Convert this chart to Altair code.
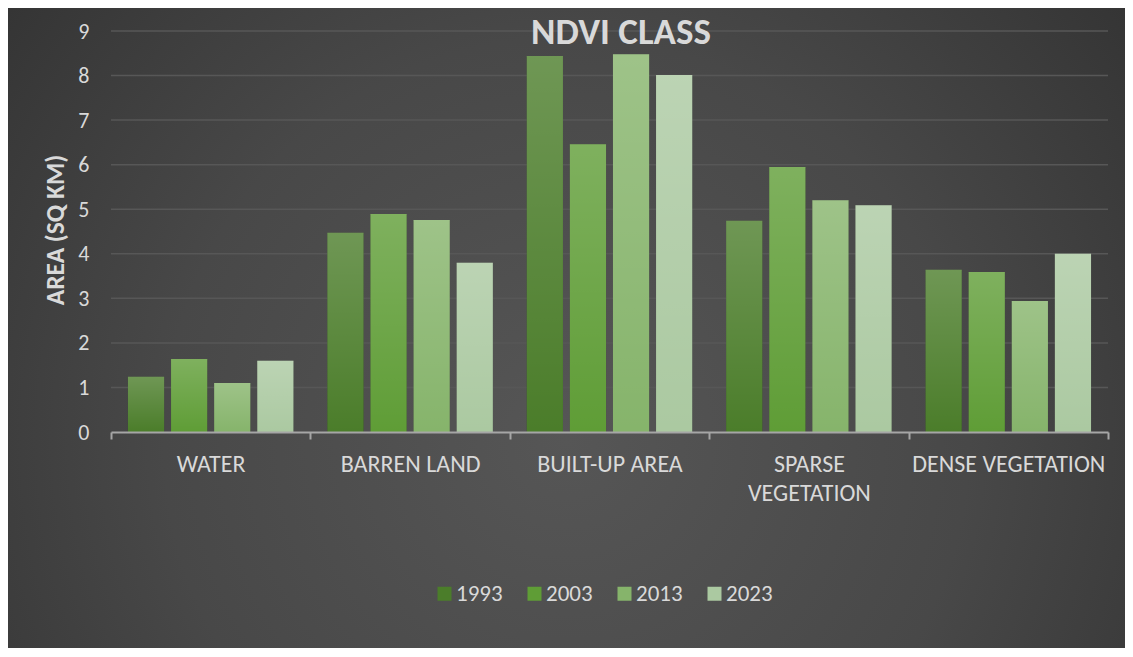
import altair as alt
import pandas as pd

# ---- data ----
classes = ["WATER", "BARREN LAND", "BUILT-UP AREA", "SPARSE VEGETATION", "DENSE VEGETATION"]
years = ["1993", "2003", "2013", "2023"]
area_1993 = [1.24, 4.47, 8.44, 4.74, 3.64]
area_2003 = [1.64, 4.89, 6.46, 5.95, 3.59]
area_2013 = [1.10, 4.76, 8.48, 5.20, 2.94]
area_2023 = [1.60, 3.80, 8.01, 5.09, 4.00]
y_ticks = [0, 1, 2, 3, 4, 5, 6, 7, 8, 9]
chart_title = ["NDVI CLASS"]

colors = ["#4b7d2a", "#5f9d36", "#86b46b", "#abc9a1"]
TXT = "#d9d9d9"
FONT = "Carlito, Lato, sans-serif"

series = {"1993": area_1993, "2003": area_2003, "2013": area_2013, "2023": area_2023}
rows = []
for yr, vals in series.items():
    for c, v in zip(classes, vals):
        rows.append({"cls": c, "year": yr, "area": v})
df = pd.DataFrame(rows)
grid_df = pd.DataFrame({"area": y_ticks[1:]})
bg_df = pd.DataFrame({"k": [0]})
title_df = pd.DataFrame({"t": chart_title})

W, H = 997, 401
PL, PT, PR, PB = 103, 23, 17, 216

x_axis = alt.Axis(
    title=None, labelAngle=0, labelFontSize=24, labelColor=TXT, labelFont=FONT,
    labelPadding=13, labelLineHeight=29, labelLimit=400,
    labelExpr="datum.label == 'SPARSE VEGETATION' ? ['SPARSE', 'VEGETATION'] : datum.label",
    domainColor="#a6a6a6", domainWidth=2, tickColor="#a6a6a6", tickWidth=2, tickSize=7,
    tickBand="extent", grid=False, zindex=1,
)
y_axis = alt.Axis(
    title="AREA (SQ KM)", values=y_ticks, domain=False, ticks=False, grid=False,
    labelFontSize=22, labelColor=TXT, labelFont=FONT, labelPadding=22,
    titleFontSize=25.5, titleFontWeight="bold", titleColor=TXT, titleFont=FONT,
    titleX=-56, titleY=H / 2 - 2, titleAlign="center", titleBaseline="middle", zindex=1,
)

x_enc = alt.X("cls:N", sort=classes,
              scale=alt.Scale(domain=classes, paddingInner=0, paddingOuter=0),
              axis=x_axis)
xo_enc = alt.XOffset("year:N", scale=alt.Scale(domain=years, paddingInner=0.16, paddingOuter=0.393))
y_enc = alt.Y("area:Q", scale=alt.Scale(domain=[0, 9], nice=False), axis=y_axis)

bg = alt.Chart(bg_df).mark_rect(
    color=alt.Gradient(
        gradient="radial", x1=0.5, y1=0.6, x2=0.5, y2=0.6, r1=0, r2=0.8,
        stops=[alt.GradientStop(color="#565656", offset=0),
               alt.GradientStop(color="#484848", offset=0.45),
               alt.GradientStop(color="#292929", offset=1)],
    )
).encode(x=alt.value(-PL), x2=alt.value(W + PR), y=alt.value(-PT), y2=alt.value(H + PB))

grid = alt.Chart(grid_df).mark_rule(color="#575757", strokeWidth=1.5).encode(y=y_enc)

base = alt.Chart(df).encode(x=x_enc, xOffset=xo_enc, y=y_enc)

shadow = base.mark_bar(color="#151515", opacity=0.35, xOffset=3, yOffset=1)

bars = base.mark_bar().encode(
    color=alt.Color(
        "year:N", scale=alt.Scale(domain=years, range=colors),
        legend=alt.Legend(
            title=None, orient="none", legendX=322, legendY=551, direction="horizontal",
            columns=4, symbolType="square", symbolSize=196, symbolStrokeWidth=0,
            labelFontSize=23, labelColor=TXT, labelFont=FONT, columnPadding=20,
            labelOffset=0, padding=0, zindex=1,
        ),
    )
)

shine = base.mark_bar(
    color=alt.Gradient(
        gradient="linear", x1=0, y1=0, x2=0, y2=1,
        stops=[alt.GradientStop(color="rgba(255,255,255,0.2)", offset=0),
               alt.GradientStop(color="rgba(255,255,255,0)", offset=1)],
    )
)

title = alt.Chart(title_df).mark_text(
    font=FONT, fontSize=37, fontWeight="bold", color=TXT, align="center", baseline="alphabetic"
).encode(text="t:N", x=alt.value(510), y=alt.value(13))

chart = alt.layer(bg, grid, shadow, bars, shine, title).properties(
    width=W, height=H,
    autosize=alt.AutoSizeParams(type="none"),
    padding={"left": PL, "top": PT, "right": PR, "bottom": PB},
).configure_view(stroke=None).configure(background="#2b2b2b")

chart.save("out.html", embed_options={"renderer": "svg", "actions": False})
